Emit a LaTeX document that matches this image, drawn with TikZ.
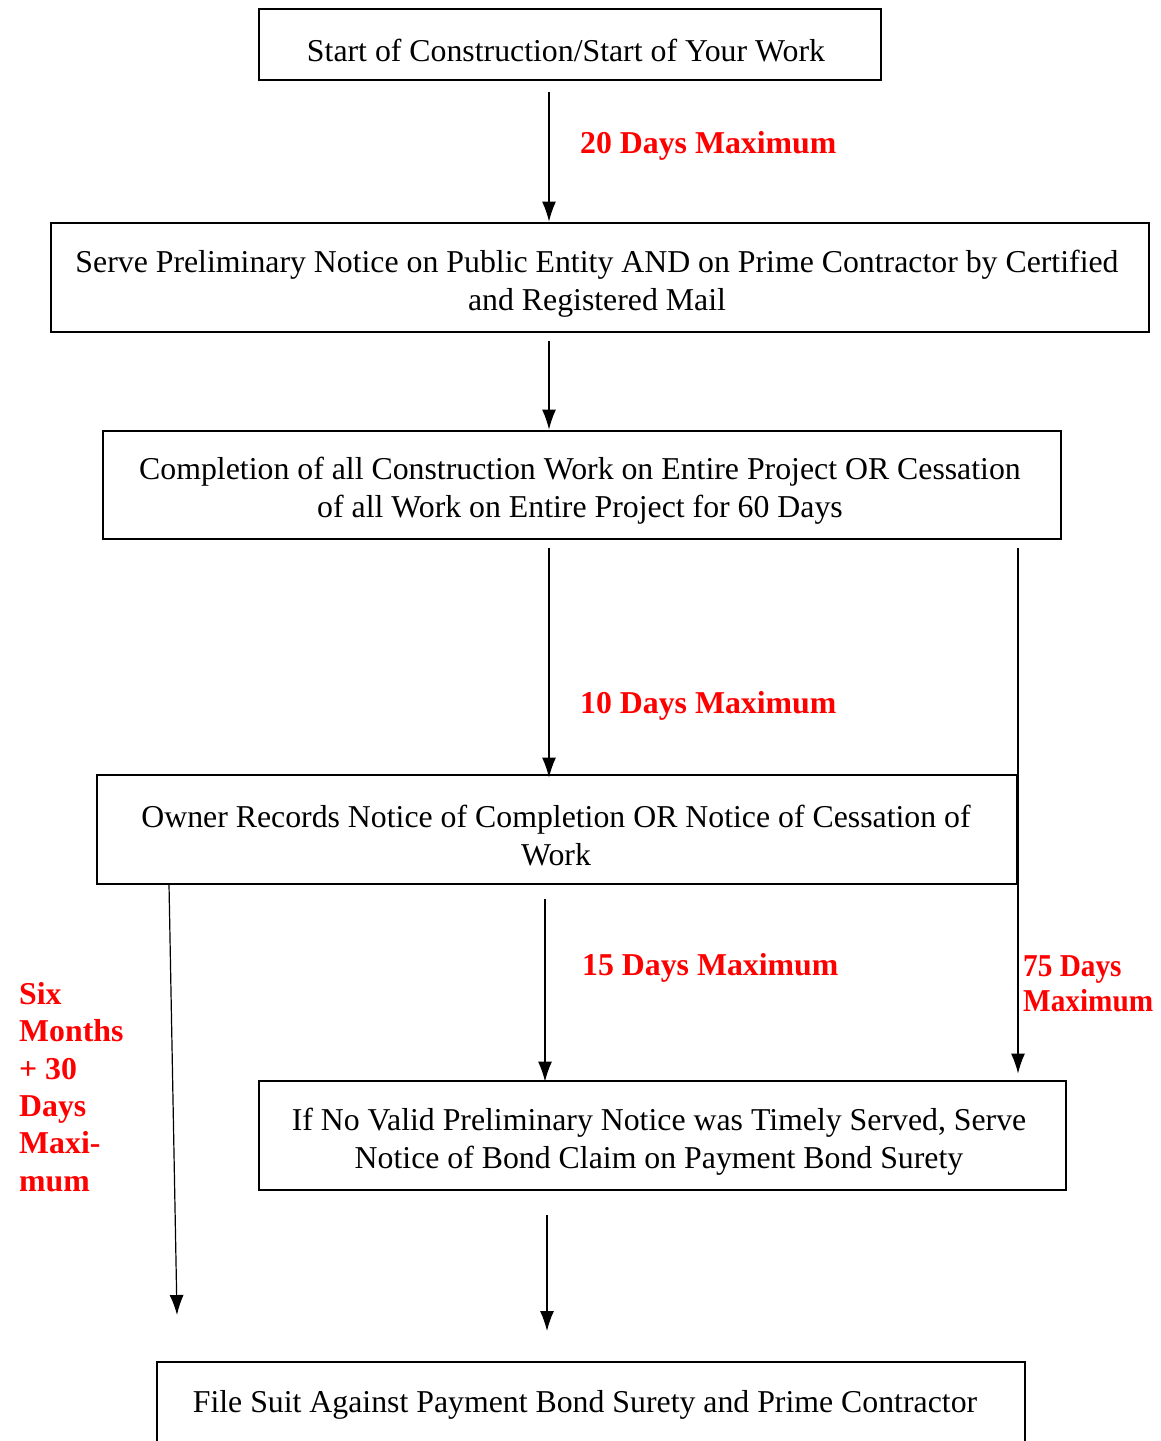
\documentclass[tikz,border=0pt]{standalone}
\usepackage{fontspec}
\setmainfont{Liberation Serif}
\usetikzlibrary{arrows.meta,calc}
\begin{document}
\begin{tikzpicture}[x=1pt,y=-1pt,
  box/.style={draw=black,line width=2.9pt,inner sep=0pt},
  txt/.style={inner sep=0pt,align=center,font=\fontsize{31.8}{38}\selectfont},
  arr/.style={line width=1.2pt,-{Latex[length=20pt,width=14pt]}},
  lab/.style={text=red,font=\fontsize{31.8}{37.4}\selectfont\bfseries,anchor=west,inner sep=0pt,align=left}]
\useasboundingbox (0,0) rectangle (1160,1441);
\clip (0,0) rectangle (1160,1441);
\node[box,minimum width=622,minimum height=71] (b1) at (570,44.5) {};
\node[box,minimum width=1098,minimum height=109] (b2) at (600,277.5) {};
\node[box,minimum width=958,minimum height=108] (b3) at (582,485) {};
\node[box,minimum width=920,minimum height=109] (b4) at (557,829.5) {};
\node[box,minimum width=807,minimum height=109] (b5) at (662.5,1135.5) {};
\node[box,minimum width=868,minimum height=120] (b6) at (591,1422) {};
\node[txt] (t1) at (566,51) {Start of Construction/Start of Your Work};
\node[txt] (t2) at (597,284) {Serve Preliminary Notice on Public Entity AND on Prime Contractor by Certified\\and Registered Mail};
\node[txt] (t3) at (580,491) {Completion of all Construction Work on Entire Project OR Cessation\\of all Work on Entire Project for 60 Days};
\node[txt] (t4) at (556,836) {Owner Records Notice of Completion OR Notice of Cessation of\\Work};
\node[txt] (t5) at (659,1142) {If No Valid Preliminary Notice was Timely Served, Serve\\Notice of Bond Claim on Payment Bond Surety};
\node[txt] (t6) at (585,1405) {File Suit Against Payment Bond Surety and Prime Contractor};
\coordinate (xa) at (549,0);
\coordinate (xb) at (1018,0);
\coordinate (xc) at (545,0);
\coordinate (xd) at (547,0);
\coordinate (p1) at (169,884);
\coordinate (p2) at (177,1315);
\coordinate (q2) at (547,1331);
\draw[arr] ([yshift=-11pt]b1.south -| xa) -- (b2.north -| xa);
\draw[arr] ([yshift=-8pt]b2.south -| xa) -- (b3.north -| xa);
\draw[arr] ([yshift=-8pt]b3.south -| xa) -- ([yshift=-4pt]b4.north -| xa);
\draw[arr] ([yshift=-8pt]b3.south -| xb) -- ([yshift=6pt]b5.north -| xb);
\draw[arr] ([yshift=-14pt]b4.south -| xc) -- ([yshift=-2pt]b5.north -| xc);
\draw[arr] (p1) -- (p2);
\draw[arr] ([yshift=-24pt]b5.south -| xd) -- (q2);
\node[lab] (l1) at (580,146) {20 Days Maximum};
\node[lab] (l2) at (580,706) {10 Days Maximum};
\node[lab] (l3) at (582,968) {15 Days Maximum};
\node[lab,anchor=north west,transform shape,xscale=0.92,font=\fontsize{31.8}{35}\selectfont\bfseries] (l4) at (1023,955) {75 Days\\Maximum};
\node[lab,anchor=north west] (l5) at (19,982) {Six\\Months\\+ 30\\Days\\Maxi-\\mum};
\end{tikzpicture}
\end{document}
